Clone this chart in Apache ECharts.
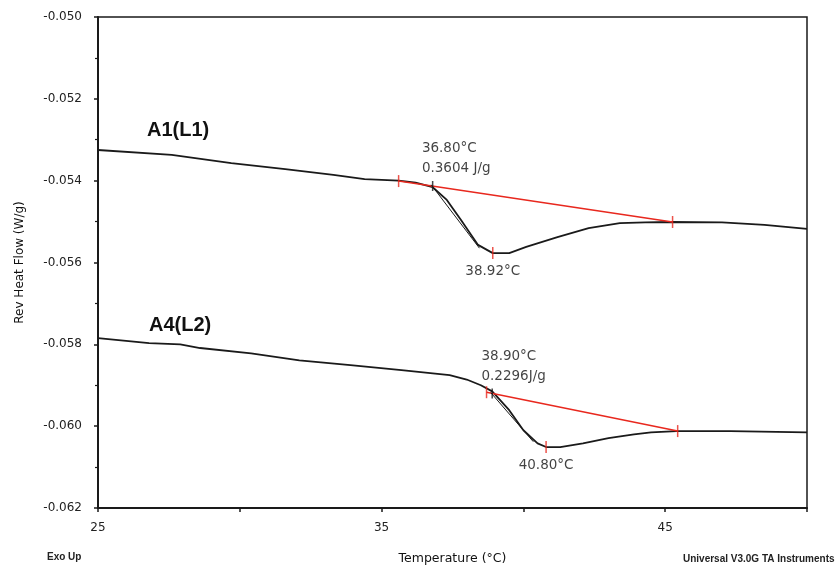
<!DOCTYPE html>
<html>
<head>
<meta charset="utf-8">
<script src="https://cdn.jsdelivr.net/npm/echarts@6/dist/echarts.min.js"></script>
<style>
  html, body { margin: 0; padding: 0; background: #fff; }
  #chart { width: 839px; height: 565px; }
</style>
</head>
<body>
<div id="chart"></div>
<script>
// Reversing heat flow traces (W/g) against temperature (°C)
const tempA1 = [25.0, 27.6, 29.7, 31.6, 33.3, 34.4, 35.6, 36.2, 36.8, 37.3, 37.8, 38.4, 38.92, 39.5, 40.1, 41.2, 42.3, 43.4, 44.3, 45.2, 47.0, 48.5, 50.0];
const flowA1 = [-0.05325, -0.05337, -0.05357, -0.05372, -0.05386, -0.05396, -0.05400, -0.05405, -0.05416, -0.05447, -0.05496, -0.05557, -0.05577, -0.05577, -0.05562, -0.05538, -0.05516, -0.05504, -0.05502, -0.05501, -0.05502, -0.05508, -0.05518];

const tempA4 = [25.0, 26.8, 27.9, 28.6, 30.4, 32.1, 33.9, 35.7, 37.4, 38.0, 38.5, 38.9, 39.5, 40.0, 40.5, 40.8, 41.3, 42.1, 43.0, 43.9, 44.5, 45.4, 47.3, 50.0];
const flowA4 = [-0.05785, -0.05797, -0.05800, -0.05809, -0.05822, -0.05839, -0.05851, -0.05863, -0.05875, -0.05886, -0.05900, -0.05915, -0.05961, -0.06010, -0.06042, -0.06051, -0.06051, -0.06042, -0.06029, -0.06020, -0.06015, -0.06012, -0.06012, -0.06015];

// Integration baselines (start and end points)
const baseA1 = [[35.6, -0.05401], [45.26, -0.05501]];
const baseA4 = [[38.7, -0.05917], [45.44, -0.06012]];

// Onset tangents
const tangentA1 = [[36.75, -0.05410], [38.45, -0.05565]];
const tangentA4 = [[38.85, -0.05918], [40.35, -0.06038]];

// Analysis results
const onsetA1 = { t: 36.80, v: -0.05413, enthalpy: '0.3604 J/g' };
const peakA1 = { t: 38.92, v: -0.05577 };
const onsetA4 = { t: 38.90, v: -0.05920, enthalpy: '0.2296J/g' };
const peakA4 = { t: 40.80, v: -0.06051 };

const xTicksLabelled = [25, 35, 45];

const FONT = 'Liberation Sans, Arial, sans-serif';
const WIDE = 'DejaVu Sans, sans-serif';
const INK = '#1a1a1a';
const RED = '#e8281e';
const TEXT = '#111';

const zip = (xs, ys) => xs.map((x, i) => [x, ys[i]]);

function traceSeries(name, xs, ys) {
  return {
    name, type: 'line', data: zip(xs, ys), showSymbol: false, symbol: 'none',
    lineStyle: { color: INK, width: 1.8 }, z: 3
  };
}
function segSeries(points, color, width) {
  return {
    type: 'line', data: points, symbol: 'none',
    lineStyle: { color, width }, z: 4
  };
}
function tickSeries(points, color, size, label) {
  return {
    type: 'scatter', data: points, symbol: 'rect', symbolSize: size,
    itemStyle: { color }, z: 5, label
  };
}

const onsetLabel = {
  show: true, position: [-10, -42], align: 'left', verticalAlign: 'top',
  fontFamily: WIDE, fontSize: 13.5, lineHeight: 20, color: TEXT
};
const peakLabel = {
  show: true, position: 'bottom', distance: 5,
  fontFamily: WIDE, fontSize: 13.5, color: TEXT
};

const chart = echarts.init(document.getElementById('chart'), null, { renderer: 'canvas' });
chart.setOption({
  animation: false,
  backgroundColor: '#fff',
  grid: {
    left: 98, right: 32, top: 17, bottom: 57, containLabel: false, outerBoundsMode: 'none',
    show: true, borderColor: INK, borderWidth: 1.5
  },
  xAxis: {
    type: 'value', min: 25, max: 50, interval: 5,
    name: 'Temperature (°C)', nameLocation: 'middle', nameGap: 44,
    nameTextStyle: { fontFamily: WIDE, fontSize: 12.5, color: TEXT },
    axisLine: { lineStyle: { color: INK, width: 2 } },
    axisTick: { show: true, length: 4, lineStyle: { color: INK, width: 1.5 } },
    axisLabel: {
      margin: 14, fontFamily: WIDE, fontSize: 12, color: '#222',
      formatter: v => xTicksLabelled.includes(v) ? String(v) : ''
    },
    splitLine: { show: false }
  },
  yAxis: {
    type: 'value', min: -0.062, max: -0.050, interval: 0.002,
    name: 'Rev Heat Flow (W/g)', nameLocation: 'middle', nameGap: 72, nameRotate: 90,
    nameTextStyle: { fontFamily: WIDE, fontSize: 12, color: TEXT },
    axisLine: { lineStyle: { color: INK, width: 2 } },
    axisTick: { show: true, length: 4, lineStyle: { color: INK, width: 1.5 } },
    minorTick: { show: true, splitNumber: 2, length: 3, lineStyle: { color: INK, width: 1.2 } },
    axisLabel: {
      margin: 16, fontFamily: WIDE, fontSize: 12, color: '#222',
      formatter: v => v.toFixed(3)
    },
    splitLine: { show: false }
  },
  series: [
    traceSeries('A1(L1)', tempA1, flowA1),
    traceSeries('A4(L2)', tempA4, flowA4),
    segSeries(baseA1, RED, 1.5),
    segSeries(baseA4, RED, 1.5),
    segSeries(tangentA1, INK, 1),
    segSeries(tangentA4, INK, 1),
    tickSeries([baseA1[0], baseA1[1], baseA4[0], baseA4[1]], RED, [1.5, 12]),
    tickSeries([[peakA1.t, peakA1.v]], RED, [1.5, 12], Object.assign({}, peakLabel, { formatter: peakA1.t.toFixed(2) + '°C' })),
    tickSeries([[peakA4.t, peakA4.v]], RED, [1.5, 12], Object.assign({}, peakLabel, { formatter: peakA4.t.toFixed(2) + '°C' })),
    tickSeries([[onsetA1.t, onsetA1.v]], INK, [1.5, 10], Object.assign({}, onsetLabel, { formatter: onsetA1.t.toFixed(2) + '°C\n' + onsetA1.enthalpy })),
    tickSeries([[onsetA4.t, onsetA4.v]], INK, [1.5, 10], Object.assign({}, onsetLabel, { formatter: onsetA4.t.toFixed(2) + '°C\n' + onsetA4.enthalpy }))
  ],
  graphic: [
    { type: 'text', left: 147, top: 120, style: { text: 'A1(L1)', font: 'bold 20px ' + FONT, fill: '#111' } },
    { type: 'text', left: 149, top: 315, style: { text: 'A4(L2)', font: 'bold 20px ' + FONT, fill: '#111' } },
    { type: 'text', left: 47, top: 552, style: { text: 'Exo Up', font: 'bold 10px ' + FONT, fill: '#222' } },
    { type: 'text', left: 683, top: 554, style: { text: 'Universal V3.0G TA Instruments', font: 'bold 10px ' + FONT, fill: '#222' } }
  ]
});
</script>
</body>
</html>
